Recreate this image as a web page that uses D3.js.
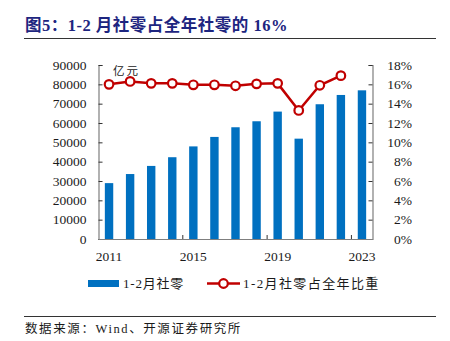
<!DOCTYPE html>
<html>
<head>
<meta charset="utf-8">
<script src="https://cdn.jsdelivr.net/npm/d3@7"></script>
<style>
  body { margin: 0; background: #fff; }
  svg text { font-family: "Liberation Serif", "Noto Sans CJK SC", serif; }
</style>
</head>
<body>
<svg id="chart" width="450" height="341"></svg>
<script>
// data
let years = ["2011","2012","2013","2014","2015","2016","2017","2018","2019","2020","2021","2022","2023"];
let retail = [28900, 33600, 37800, 42300, 47900, 52800, 57800, 60900, 65900, 51900, 69700, 74500, 76900];
let shareYears = ["2011","2012","2013","2014","2015","2016","2017","2018","2019","2020","2021","2022"];
let share = [16.0, 16.3, 16.1, 16.1, 15.95, 15.95, 15.85, 16.05, 16.1, 13.3, 15.9, 16.9];
let leftTicks = [0,10000,20000,30000,40000,50000,60000,70000,80000,90000];
let rightTicks = [0,2,4,6,8,10,12,14,16,18];
let xLabels = ["2011","2015","2019","2023"];

let svg = d3.select("#chart");
let plotLeft = 98.5, plotRight = 372.5, plotTop = 65, plotBottom = 239;
let axisColor = "#7f7f7f";
let textColor = "#1a1a1a";

let x = d3.scaleBand().domain(years).range([plotLeft, plotRight]);
let y = d3.scaleLinear().domain([0, 90000]).range([plotBottom, plotTop]);
let y2 = d3.scaleLinear().domain([0, 18]).range([plotBottom, plotTop]);
let cx = d => x(d) + x.bandwidth()/2;

// title
svg.append("text").attr("x", 25).attr("y", 31)
    .attr("font-size", 16.5).attr("font-weight", "bold").attr("fill", "#1d2580")
    .attr("letter-spacing", 0.5)
    .text("图5：1-2 月社零占全年社零的 16%");
svg.append("line").attr("x1", 24).attr("x2", 436).attr("y1", 38.5).attr("y2", 38.5)
    .attr("stroke", "#333").attr("stroke-width", 1.2);

// bars
svg.append("g").selectAll("rect").data(years).enter().append("rect")
    .attr("x", d => cx(d) - 4.2)
    .attr("width", 8.4)
    .attr("y", (d, i) => y(retail[i]))
    .attr("height", (d, i) => plotBottom - y(retail[i]))
    .attr("fill", "#0070c0");

// axes
let leftAxis = svg.append("g").attr("transform", "translate(" + plotLeft + ",0)")
    .call(d3.axisLeft(y).tickValues(leftTicks).tickSize(-4).tickPadding(12).tickFormat(d3.format("d")));
let rightAxis = svg.append("g").attr("transform", "translate(" + plotRight + ",0)")
    .call(d3.axisRight(y2).tickValues(rightTicks).tickSize(-4).tickPadding(39.5).tickFormat(d => d + "%"));
let bottomAxis = svg.append("g").attr("transform", "translate(0," + plotBottom + ")")
    .call(d3.axisBottom(x).tickValues([]).tickSizeOuter(0));

[leftAxis, rightAxis, bottomAxis].forEach(a => {
    a.select(".domain").attr("stroke", axisColor).attr("stroke-width", 1.2);
    a.selectAll(".tick line").attr("stroke", "#333");
    a.selectAll("text").attr("font-size", 13.5).attr("fill", textColor)
        .attr("font-family", "Liberation Serif, serif");
});
rightAxis.selectAll("text").attr("text-anchor", "end");

// category boundary ticks every 4 years, pointing up
let boundaries = [4, 8, 12];
svg.append("g").selectAll("line").data(boundaries).enter().append("line")
    .attr("x1", d => x(years[d])).attr("x2", d => x(years[d]))
    .attr("y1", plotBottom).attr("y2", plotBottom - 4)
    .attr("stroke", "#333");

svg.append("g").selectAll("text").data(xLabels).enter().append("text")
    .attr("x", d => cx(d))
    .attr("y", 261)
    .attr("text-anchor", "middle")
    .attr("font-size", 13.5).attr("fill", textColor)
    .text(d => d);

// unit
svg.append("text").attr("x", 113).attr("y", 74.5).attr("font-size", 11.5)
    .attr("letter-spacing", 2).attr("fill", textColor).text("亿元");

// share line
let line = d3.line()
    .x((d, i) => cx(shareYears[i]))
    .y(d => y2(d));
svg.append("path").datum(share).attr("d", line)
    .attr("fill", "none").attr("stroke", "#c00000").attr("stroke-width", 2.5);
svg.append("g").selectAll("circle").data(share).enter().append("circle")
    .attr("cx", (d, i) => cx(shareYears[i]))
    .attr("cy", d => y2(d))
    .attr("r", 4.3)
    .attr("fill", "#fff").attr("stroke", "#c00000").attr("stroke-width", 2.2);

// legend
let legend = svg.append("g");
legend.append("rect").attr("x", 88).attr("y", 280).attr("width", 31).attr("height", 7).attr("fill", "#0070c0");
legend.append("text").attr("x", 123).attr("y", 288).attr("font-size", 13)
    .attr("letter-spacing", 0.8).attr("fill", textColor).text("1-2月社零");
legend.append("line").attr("x1", 207).attr("x2", 240).attr("y1", 283.5).attr("y2", 283.5)
    .attr("stroke", "#c00000").attr("stroke-width", 2.5);
legend.append("circle").attr("cx", 223.5).attr("cy", 283.5).attr("r", 4.3)
    .attr("fill", "#fff").attr("stroke", "#c00000").attr("stroke-width", 2.2);
legend.append("text").attr("x", 243).attr("y", 288).attr("font-size", 13)
    .attr("letter-spacing", 1.4).attr("fill", textColor).text("1-2月社零占全年比重");

// source
svg.append("line").attr("x1", 24).attr("x2", 436).attr("y1", 316.5).attr("y2", 316.5)
    .attr("stroke", "#333").attr("stroke-width", 1);
svg.append("text").attr("x", 25).attr("y", 333).attr("font-size", 12.5)
    .attr("letter-spacing", 1.6).attr("fill", textColor)
    .text("数据来源：Wind、开源证券研究所");
</script>
</body>
</html>
